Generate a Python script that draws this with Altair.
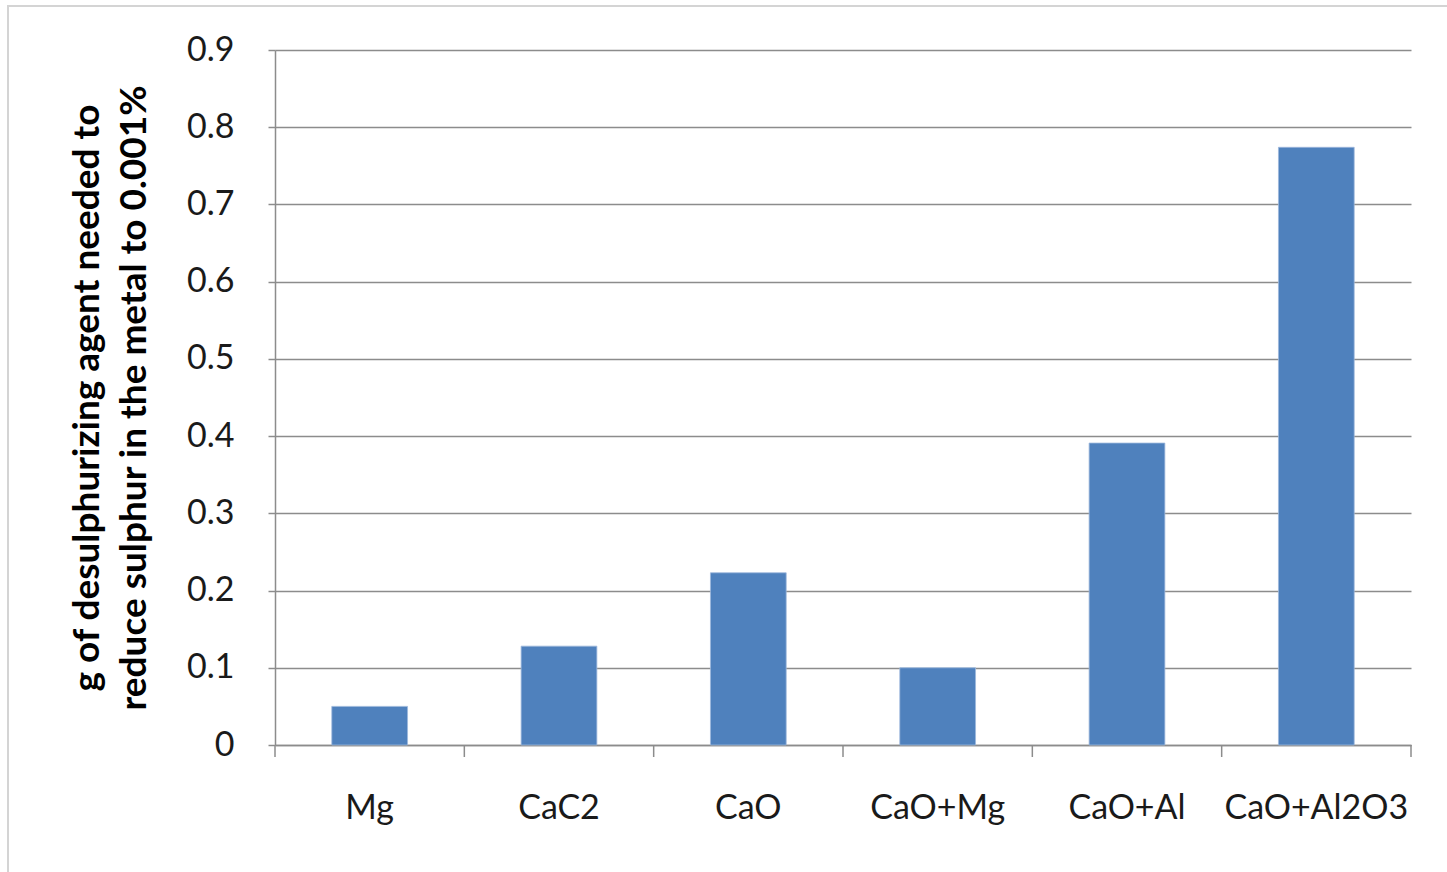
import altair as alt
import pandas as pd

# Amount of desulphurizing agent per reagent
agents = ["Mg", "CaC2", "CaO", "CaO+Mg", "CaO+Al", "CaO+Al2O3"]
grams = [0.05, 0.128, 0.223, 0.1, 0.391, 0.774]
y_ticks = [0, 0.1, 0.2, 0.3, 0.4, 0.5, 0.6, 0.7, 0.8, 0.9]
slot_edges = list(range(len(agents) + 1))

W, H = 1136, 695
FONT = "Lato"
GRID = "#8c8c8c"
BAR = "#4f81bd"

bars_df = pd.DataFrame({"agent": agents, "g": grams})
edges_df = pd.DataFrame({"edge": slot_edges})
frame_df = pd.DataFrame({"k": [0]})

bars = alt.Chart(bars_df).mark_bar(color=BAR, stroke="#9db7dc", strokeWidth=0.8).encode(
    x=alt.X(
        "agent:N",
        sort=agents,
        scale=alt.Scale(paddingInner=0.6, paddingOuter=0.3),
        axis=alt.Axis(
            title=None,
            labelAngle=0,
            labelFont=FONT,
            labelFontSize=34,
            labelColor="#1a1a1a",
            labelPadding=46,
            labelLimit=0,
            labelOverlap=False,
            ticks=False,
            domainColor=GRID,
            domainWidth=1.5,
        ),
    ),
    y=alt.Y(
        "g:Q",
        scale=alt.Scale(domain=[0, 0.9], nice=False),
        axis=alt.Axis(
            values=y_ticks,
            format="~g",
            title=["g of desulphurizing agent needed to", "reduce sulphur in the metal to 0.001%"],
            titleFont=FONT,
            titleFontSize=37,
            titleFontWeight="bold",
            titleColor="#000000",
            titleLineHeight=47,
            titlePadding=33,
            titleLimit=0,
            labelFont=FONT,
            labelFontSize=34,
            labelColor="#1a1a1a",
            labelPadding=34,
            tickSize=7,
            tickColor=GRID,
            tickWidth=1.5,
            domainColor=GRID,
            domainWidth=1.5,
            grid=True,
            gridColor=GRID,
            gridWidth=1.5,
        ),
    ),
)

# category boundary ticks below the x axis
edge_ticks = alt.Chart(edges_df).mark_rule(color=GRID, strokeWidth=1.5).encode(
    x=alt.X("edge:Q", scale=alt.Scale(domain=[0, len(agents)], nice=False), axis=None),
    y=alt.value(H),
    y2=alt.value(H + 12),
)

# light outer frame around the whole figure
frame = alt.Chart(frame_df).mark_rect(fill=None, stroke="#d4d4d4", strokeWidth=2).encode(
    x=alt.value(8 - 275),
    x2=alt.value(1447 - 275 + 20),
    y=alt.value(6 - 50),
    y2=alt.value(872 - 50 + 20),
)

chart = (
    alt.layer(frame, bars, edge_ticks)
    .resolve_scale(x="independent")
    .properties(
        width=W,
        height=H,
        autosize=alt.AutoSizeParams(type="none"),
        padding={"left": 275, "top": 50, "right": 36, "bottom": 127},
        background="white",
    )
    .configure_view(stroke=None)
)

chart.save("out.html", embed_options={"renderer": "svg", "actions": False})
